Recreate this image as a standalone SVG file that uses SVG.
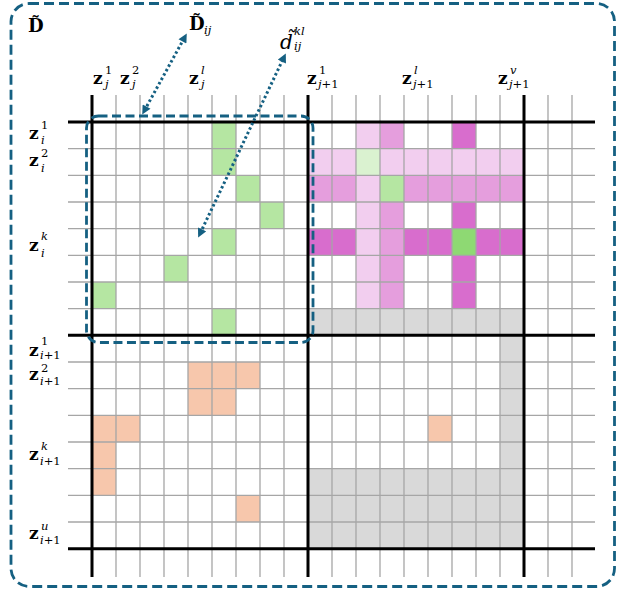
<svg xmlns="http://www.w3.org/2000/svg" width="619" height="590" viewBox="0 0 619 590">
<style>
.thin{stroke:#a6a6a6;stroke-width:1.3;fill:none}
.thick{stroke:#000;stroke-width:3;fill:none}
.g{fill:#B5E6A2}.dg{fill:#8ED973}.lg{fill:#DAF2D0}
.lp{fill:#F2CEEF}.mp{fill:#E59EDD}.dp{fill:#D86DCD}
.gr{fill:#D9D9D9}.or{fill:#F7C7AC}
.dash{fill:none;stroke:#156082;stroke-width:2.8}
.dot{fill:none;stroke:#156082;stroke-width:3;stroke-dasharray:2.5 2.5}
.z{font-family:"DejaVu Serif",serif;font-weight:bold;font-size:17px;fill:#000}
.s{font-family:"DejaVu Serif",serif;font-size:11.5px;fill:#000}
.i{font-style:italic}
.big{font-family:"DejaVu Serif",serif;font-weight:bold;font-size:18px;fill:#000}
</style>
<defs>
<marker id="ah" viewBox="0 0 10 10" refX="5" refY="5" markerWidth="10" markerHeight="9" markerUnits="userSpaceOnUse" orient="auto-start-reverse">
<path d="M0,0 L10,5 L0,10 z" fill="#156082"/>
</marker>
</defs>
<rect width="619" height="590" fill="#fff"/>
<g id="cells">
<rect class="g" x="212" y="122" width="24" height="26.67"/>
<rect class="g" x="212" y="148.67" width="24" height="26.67"/>
<rect class="g" x="236" y="175.33" width="24" height="26.67"/>
<rect class="g" x="260" y="202" width="24" height="26.67"/>
<rect class="g" x="212" y="228.67" width="24" height="26.67"/>
<rect class="g" x="164" y="255.33" width="24" height="26.67"/>
<rect class="g" x="92" y="282" width="24" height="26.67"/>
<rect class="g" x="212" y="308.67" width="24" height="26.67"/>
<rect class="lp" x="356" y="122" width="24" height="26.67"/>
<rect class="mp" x="380" y="122" width="24" height="26.67"/>
<rect class="dp" x="452" y="122" width="24" height="26.67"/>
<rect class="lp" x="308" y="148.67" width="48" height="26.67"/>
<rect class="lg" x="356" y="148.67" width="24" height="26.67"/>
<rect class="lp" x="380" y="148.67" width="144" height="26.67"/>
<rect class="mp" x="308" y="175.33" width="48" height="26.67"/>
<rect class="lp" x="356" y="175.33" width="24" height="26.67"/>
<rect class="g" x="380" y="175.33" width="24" height="26.67"/>
<rect class="mp" x="404" y="175.33" width="120" height="26.67"/>
<rect class="lp" x="356" y="202" width="24" height="26.67"/>
<rect class="mp" x="380" y="202" width="24" height="26.67"/>
<rect class="dp" x="452" y="202" width="24" height="26.67"/>
<rect class="dp" x="308" y="228.67" width="48" height="26.67"/>
<rect class="lp" x="356" y="228.67" width="24" height="26.67"/>
<rect class="mp" x="380" y="228.67" width="24" height="26.67"/>
<rect class="dp" x="404" y="228.67" width="48" height="26.67"/>
<rect class="dg" x="452" y="228.67" width="24" height="26.67"/>
<rect class="dp" x="476" y="228.67" width="48" height="26.67"/>
<rect class="lp" x="356" y="255.33" width="24" height="53.34"/>
<rect class="mp" x="380" y="255.33" width="24" height="53.34"/>
<rect class="dp" x="452" y="255.33" width="24" height="53.34"/>
<rect class="gr" x="308" y="308.67" width="216" height="26.67"/>
<rect class="gr" x="500" y="335.33" width="24" height="133.34"/>
<rect class="gr" x="308" y="468.67" width="216" height="80"/>
<rect class="or" x="428" y="415.33" width="24" height="26.67"/>
<rect class="or" x="188" y="362" width="72" height="26.67"/>
<rect class="or" x="188" y="388.67" width="48" height="26.67"/>
<rect class="or" x="92" y="415.33" width="48" height="26.67"/>
<rect class="or" x="92" y="442" width="24" height="53.34"/>
<rect class="or" x="236" y="495.33" width="24" height="26.67"/>
</g>
<g id="grid">
<path class="thin" d="M116,95V577M140,95V577M164,95V577M188,95V577M212,95V577M236,95V577M260,95V577M284,95V577M332,95V577M356,95V577M380,95V577M404,95V577M428,95V577M452,95V577M476,95V577M500,95V577M548,95V577M572,95V577"/>
<path class="thin" d="M68,148.67H595M68,175.33H595M68,202H595M68,228.67H595M68,255.33H595M68,282H595M68,308.67H595M68,362H595M68,388.67H595M68,415.33H595M68,442H595M68,468.67H595M68,495.33H595M68,522H595"/>
<path class="thick" d="M92,95V577M308,95V577M524,95V577M68,122H595M68,335.33H595M68,548.67H595"/>
</g>
<g id="outer-D">
<rect class="dash" x="11" y="3.5" width="603.5" height="583" rx="18" stroke-dasharray="10 5"/>
<text class="big" x="28" y="32">D̃</text>
</g>
<g id="inner-Dij">
<rect class="dash" x="86.5" y="116" width="226.5" height="226.5" rx="12" stroke-dasharray="9 4.5"/>
<text class="big" x="189" y="30">D̃</text>
<text class="s i" x="204" y="34">ij</text>
</g>
<g id="label-dkl">
<text x="280" y="49" style="font-family:'DejaVu Serif',serif;font-style:italic;font-size:20px">d̃</text>
<text class="s i" x="294" y="35">kl</text>
<text class="s i" x="294" y="50">ij</text>
</g>
<g id="connectors">
<line class="dot" x1="144.4" y1="110.6" x2="184.6" y2="37.4" marker-start="url(#ah)" marker-end="url(#ah)"/>
<line class="dot" x1="200.1" y1="233.5" x2="283.85" y2="57.5" marker-start="url(#ah)" marker-end="url(#ah)"/>
</g>
<g id="col-labels">
<text class="z" x="93" y="84">z</text><text class="s" x="105" y="74">1</text><text class="s i" x="105" y="88">j</text>
<text class="z" x="120" y="84">z</text><text class="s" x="132" y="74">2</text><text class="s i" x="132" y="88">j</text>
<text class="z" x="189" y="84">z</text><text class="s i" x="201" y="74">l</text><text class="s i" x="201" y="88">j</text>
<text class="z" x="307" y="84">z</text><text class="s" x="319" y="74">1</text><text class="s" x="318" y="88"><tspan class="i">j</tspan>+1</text>
<text class="z" x="402" y="84">z</text><text class="s i" x="414" y="74">l</text><text class="s" x="413" y="88"><tspan class="i">j</tspan>+1</text>
<text class="z" x="498" y="84">z</text><text class="s i" x="510" y="74">v</text><text class="s" x="509" y="88"><tspan class="i">j</tspan>+1</text>
</g>
<g id="row-labels">
<text class="z" x="29" y="139">z</text><text class="s" x="41" y="129">1</text><text class="s i" x="41" y="144">i</text>
<text class="z" x="29" y="166">z</text><text class="s" x="41" y="157">2</text><text class="s i" x="41" y="172">i</text>
<text class="z" x="29" y="251">z</text><text class="s i" x="41" y="240">k</text><text class="s i" x="41" y="257">i</text>
<text class="z" x="29" y="356">z</text><text class="s" x="41" y="345">1</text><text class="s" x="40" y="359"><tspan class="i">i</tspan>+1</text>
<text class="z" x="29" y="380">z</text><text class="s" x="41" y="372">2</text><text class="s" x="40" y="385"><tspan class="i">i</tspan>+1</text>
<text class="z" x="29" y="460">z</text><text class="s i" x="41" y="450">k</text><text class="s" x="40" y="465"><tspan class="i">i</tspan>+1</text>
<text class="z" x="29" y="539">z</text><text class="s i" x="41" y="530">u</text><text class="s" x="40" y="544"><tspan class="i">i</tspan>+1</text>
</g>
</svg>
